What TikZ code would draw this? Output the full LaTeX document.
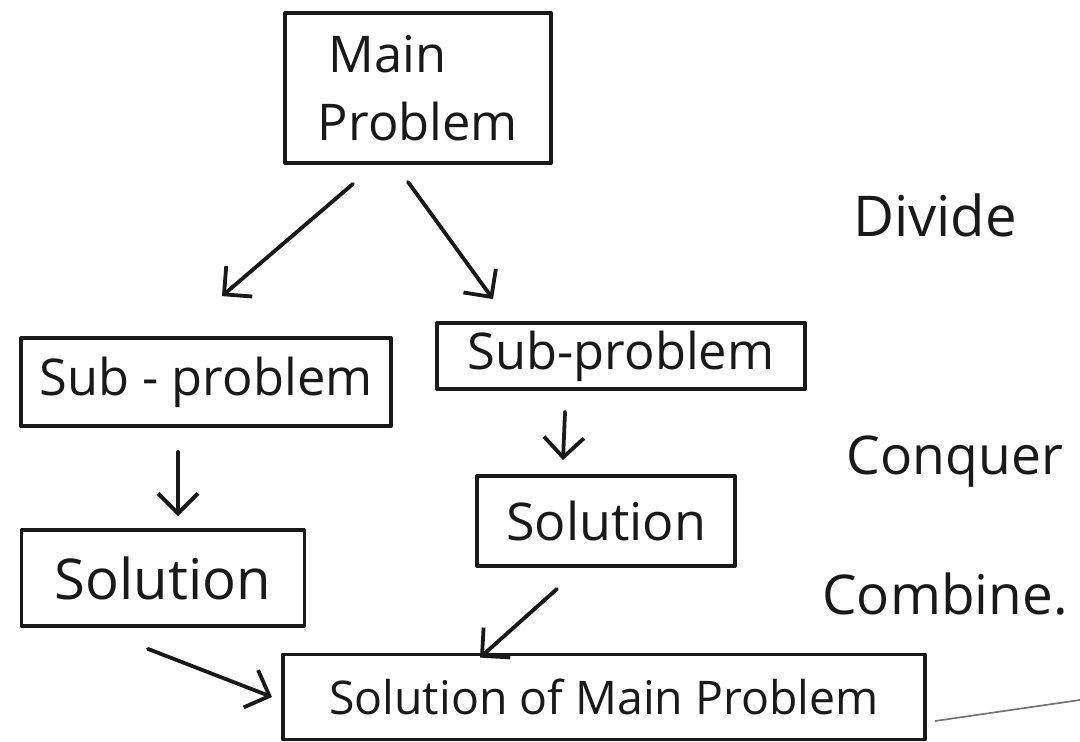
\documentclass[tikz,border=0pt]{standalone}
\usepackage{fontspec}
\setmainfont{Open Sans}
\usetikzlibrary{arrows.meta,calc}
\begin{document}
\begin{tikzpicture}[x=0.025cm,y=-0.025cm,
  ink/.style={draw=black!90, line width=2.7pt, line cap=round, line join=round},
  box/.style={ink, rectangle, inner sep=0pt, align=center, text=black!90},
  arr/.style={ink, -{Straight Barb[length=5mm,width=10mm,line width=2.7pt]}},
  note/.style={inner sep=0pt, anchor=center, text=black!90}
]
\useasboundingbox (0,0) rectangle (1080,742);

% boxes
\node[box, minimum width=6.65cm, minimum height=3.75cm,
      font=\fontsize{36}{48}\selectfont] (main) at (418,88)
      {\hspace*{-1.2em}Main\\Problem};
\node[box, minimum width=9.25cm, minimum height=2.2cm,
      font=\fontsize{36}{44}\selectfont] (sub1) at (206,382) {Sub - problem};
\node[box, minimum width=9.2cm, minimum height=1.65cm,
      font=\fontsize{36}{44}\selectfont] (sub2) at (621,356) {Sub-problem};
\node[box, minimum width=7.075cm, minimum height=2.4cm,
      font=\fontsize{40}{48}\selectfont] (sol1) at (163,578) {Solution};
\node[box, minimum width=6.45cm, minimum height=2.25cm,
      font=\fontsize{37}{44}\selectfont] (sol2) at (606,521) {Solution};
\node[box, minimum width=16.05cm, minimum height=2.125cm,
      font=\fontsize{33}{40}\selectfont] (final) at (604,697) {Solution of Main Problem};

% stage labels
\node[note, font=\fontsize{40}{48}\selectfont] (divide) at (935,215) {Divide};
\node[note, font=\fontsize{38}{46}\selectfont] (conquer) at (955,462) {Conquer};
\node[note, font=\fontsize{39}{46}\selectfont] (combine) at (945,594) {Combine.};

% divide
\draw[arr] ($(main.south)+(-65,19)$) -- ($(sub1.north)+(16,-40)$);
\draw[arr] ($(main.south)+(-10,17)$) -- ($(sub2.north)+(-128,-22)$);
% conquer
\draw[arr] ($(sub1.south)+(-28,24)$) -- ($(sol1.north)+(15,-12)$);
\draw[arr] ($(sub2.south)+(-56,21)$) -- ($(sol2.north)+(-43,-14)$);
% combine
\draw[arr] ($(sol1.south)+(-15,21)$) -- ($(final.west)+(-9,0)$);
\draw[arr] ($(sol2.south)+(-49,21)$) -- ($(final.north)+(-124,5)$);

% page edge
\coordinate (edge) at (1080,700);
\draw[black!55, line width=1.2pt] ($(final.east)+(8,24)$) -- (edge);
\end{tikzpicture}
\end{document}
